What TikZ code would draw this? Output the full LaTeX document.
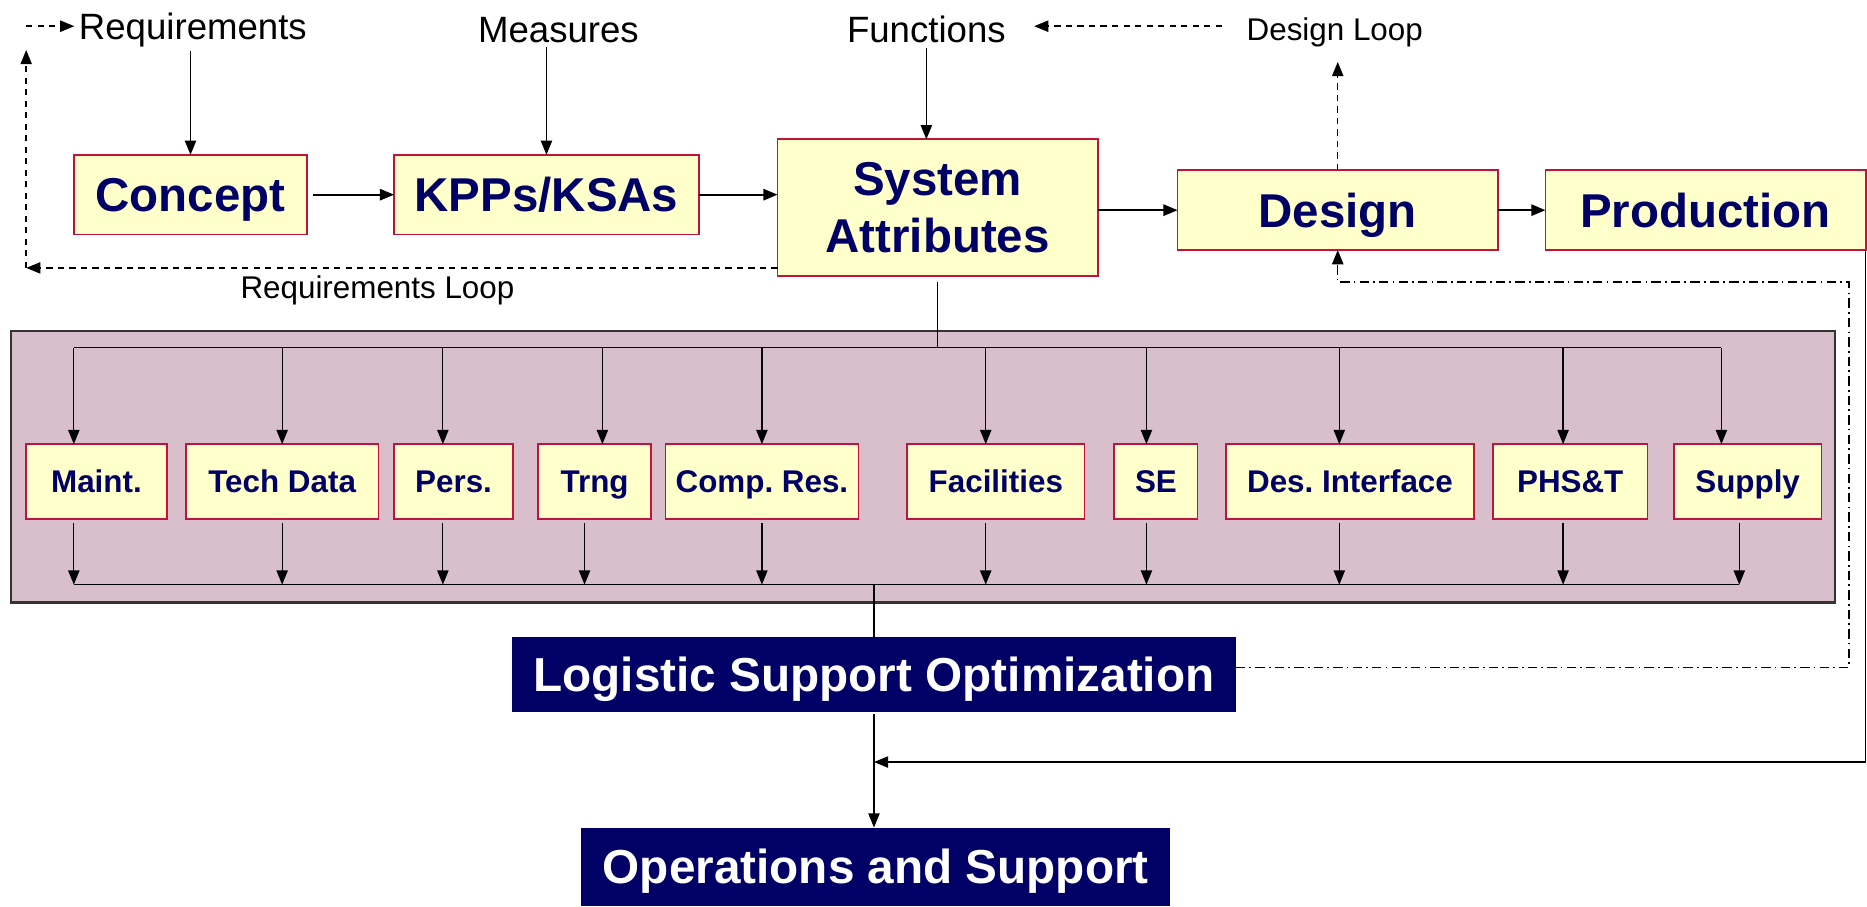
\documentclass[tikz,border=0pt]{standalone}
\usepackage{fontspec}
\setmainfont{Liberation Sans}
\usetikzlibrary{positioning, arrows.meta, calc}
\definecolor{boxnavy}{HTML}{000066}
\definecolor{boxcream}{HTML}{FFFFCC}
\definecolor{boxred}{HTML}{C0143C}
\definecolor{panelmauve}{HTML}{D9BFCC}
\frenchspacing

\begin{document}
\begin{tikzpicture}[
    x=0.02cm, y=0.02cm,
    >={Triangle[length=6.8pt,width=5.4pt]},
    bigbox/.style={rectangle, draw=boxred, line width=0.8pt, fill=boxcream, inner sep=0pt, outer sep=0pt,
                   minimum height=1.34cm, align=center, text height=17pt, text depth=0.9pt,
                   font=\fontsize{22.7}{27.2}\selectfont\bfseries, text=boxnavy},
    smallbox/.style={rectangle, draw=boxred, line width=0.8pt, fill=boxcream, inner sep=0pt, outer sep=0pt,
                     minimum height=1.26cm, text height=11.25pt, text depth=0.6pt,
                     font=\fontsize{15}{18}\selectfont\bfseries, text=boxnavy},
    navybox/.style={rectangle, fill=boxnavy, inner sep=0pt, outer sep=0pt,
                    text height=17pt, text depth=0.9pt,
                    font=\fontsize{22.8}{27}\selectfont\bfseries, text=white},
    panel/.style={rectangle, fill=panelmauve, draw=black!80, line width=1pt, inner sep=0pt},
    toplabel/.style={font=\fontsize{17.5}{21}\selectfont, inner sep=2pt},
    looplabel/.style={font=\fontsize{15}{18}\selectfont, inner sep=2pt},
    arr/.style={->, line width=0.7pt},
    flow/.style={->, line width=1pt},
    link/.style={line width=0.6pt},
    dasharr/.style={->, line width=0.7pt, dash pattern=on 3pt off 2.5pt},
    dotarr/.style={->, line width=0.7pt, dash pattern=on 4.5pt off 2pt on 0.8pt off 2pt},
  ]
  \useasboundingbox (0,0) rectangle (1568,-761);

  % support elements panel
  \node[panel, minimum width=30.64cm, minimum height=4.56cm] (support) at (775,-392) {};

  % top row
  \node[bigbox, minimum width=3.92cm] (concept) at (160,-163.5) {Concept};
  \node[bigbox, minimum width=5.12cm, right=1.46cm of concept] (kpp) {KPPs/KSAs};
  \node[bigbox, minimum width=5.38cm, minimum height=2.3cm, text height={}, text depth={}]
    (sysattr) at (787.5,-174.5) {System\\Attributes};
  \node[bigbox, minimum width=5.38cm] (design) at (1123.5,-176.5) {Design};
  \node[bigbox, minimum width=5.38cm, right=0.8cm of design] (prod) {Production};

  \node[toplabel] (req) at (162,-25) {Requirements};
  \node[toplabel] (meas) at (469,-25) {Measures};
  \node[toplabel] (func) at (778,-25) {Functions};
  \node[looplabel] (dloop) at (1121,-27) {Design Loop};
  \node[looplabel] (rloop) at (317,-244) {Requirements Loop};

  \draw[arr] (concept.north |- req.south) -- (concept.north);
  \draw[arr] (kpp.north |- meas.south) -- (kpp.north);
  \draw[arr] (func.south) -- (func.south |- sysattr.north);

  \draw[flow] ($(concept.east)+(5,0)$) -- (kpp);
  \draw[flow] (kpp.east) -- (kpp.east -| sysattr.west);
  \draw[flow] (sysattr.east |- design.west) -- (design.west);
  \draw[flow] (design) -- (prod);

  % requirements loop
  \coordinate (rlcorner) at (22,-225);
  \coordinate (rltop) at (22,-22);
  \draw[dasharr] (rlcorner -| sysattr.west) -- (rlcorner);
  \draw[dasharr] (rlcorner) -- ($(rltop)+(0,-20)$);
  \draw[dasharr] (rltop) -- (req.west |- rltop);

  % design loop
  \coordinate (dltip) at (1124,-52);
  \draw[dasharr] (design.north) -- (design.north |- dltip);
  \draw[dasharr] ($(rltop -| dloop.west)+(-17,0)$) -- ($(rltop -| func.east)+(20,0)$);

  % support elements
  \node[smallbox, minimum width=2.36cm] (maint) at (81,-404.5) {Maint.};
  \node[smallbox, minimum width=3.24cm, right=0.32cm of maint] (tech) {Tech Data};
  \node[smallbox, minimum width=2.0cm, right=0.26cm of tech] (pers) {Pers.};
  \node[smallbox, minimum width=1.9cm, right=0.42cm of pers] (trng) {Trng};
  \node[smallbox, minimum width=3.24cm, right=0.24cm of trng] (comp) {Comp. Res.};
  \node[smallbox, minimum width=2.98cm, right=0.82cm of comp] (fac) {Facilities};
  \node[smallbox, minimum width=1.4cm, right=0.5cm of fac] (se) {SE};
  \node[smallbox, minimum width=4.16cm, right=0.48cm of se] (desif) {Des. Interface};
  \node[smallbox, minimum width=2.6cm, right=0.32cm of desif] (phst) {PHS\&T};
  \node[smallbox, minimum width=2.48cm, right=0.44cm of phst] (supply) {Supply};

  \draw[link] ($(sysattr.south)+(0,-5)$) -- ++(0,-55);
  \draw[link] ($(maint.north)+(-19,81)$) -- ($(supply.north)+(-22,81)$);
  \draw[link] ($(maint.south)+(-19,-55)$) -- ($(supply.south)+(-7,-55)$);
  \foreach \n/\dt/\db in {maint/-19/-19, tech/0/0, pers/-9/-9, trng/6.5/-8.5, comp/0/0,
                          fac/-8.5/-8.5, se/-8/-8, desif/-9/-9, phst/-6/-6, supply/-22/-7} {
    \draw[arr, line width=0.6pt] ($(\n.north)+(\dt,81)$) -- ($(\n.north)+(\dt,0)$);
    \draw[arr, line width=0.6pt] ($(\n.south)+(\db,-3)$) -- ($(\n.south)+(\db,-55)$);
  }

  % bottom
  \node[navybox, minimum width=12.16cm, minimum height=1.26cm] (lso) at (734,-566.5) {Logistic Support Optimization};
  \node[navybox, minimum width=9.9cm, minimum height=1.32cm] (ops) at (735.5,-728) {Operations and Support};

  \draw[link] ($(lso.north)+(0,44)$) -- (lso.north);
  \draw[arr] ($(lso.south)+(0,-2)$) -- (lso.south |- ops.north);

  \path (lso.south) ++(0,-42) coordinate (merge);
  \draw[arr] (prod.south east) |- (merge);

  \coordinate (ddcorner) at (1553,-237);
  \draw[dotarr] ($(lso.east)+(0,6)$) -| (ddcorner) -| (design.south);
\end{tikzpicture}
\end{document}
